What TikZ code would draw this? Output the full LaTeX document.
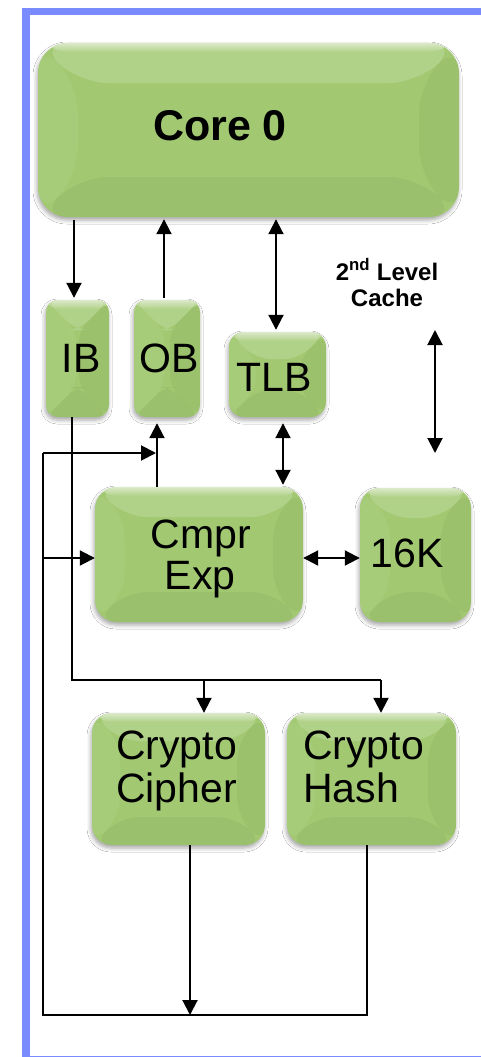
\documentclass[tikz,border=0pt]{standalone}
\usepackage{fontspec}
\setmainfont{Liberation Sans}
\usetikzlibrary{arrows.meta,calc,shadows.blur}

\definecolor{frameblue}{RGB}{122,139,255}
\definecolor{boxgreen}{RGB}{162,201,114}

\tikzset{
  % bevelled look: light top face, soft sides, slightly darker bottom face
  bevel/.style={path picture={
    \path (path picture bounding box.north west) coordinate (pNW)
          (path picture bounding box.north east) coordinate (pNE)
          (path picture bounding box.south east) coordinate (pSE)
          (path picture bounding box.south west) coordinate (pSW);
    \shade[top color=boxgreen!45!white, bottom color=boxgreen] (pNW) rectangle ($(pNE)+(0,9)$);
    \fill[white,opacity=.16] (pNW) -- (pNE) -- ($(pNE)+(-#1,#1)$) -- ($(pNW)+(#1,#1)$) -- cycle;
    \fill[white,opacity=.05] (pNW) -- ($(pNW)+(#1,#1)$) -- ($(pSW)+(#1,-#1)$) -- (pSW) -- cycle;
    \fill[black,opacity=.035] (pNE) -- ($(pNE)+(-#1,#1)$) -- ($(pSE)+(-#1,-#1)$) -- (pSE) -- cycle;
    \fill[black,opacity=.045] (pSW) -- ($(pSW)+(#1,-#1)$) -- ($(pSE)+(-#1,-#1)$) -- (pSE) -- cycle;
  }},
  blk/.style={rounded corners=#1, fill=boxgreen, draw=none, inner sep=0pt,
    blur shadow={shadow xshift=-1pt,shadow yshift=-3pt,shadow blur radius=4pt,shadow opacity=35}},
  lbl/.style={font=\fontsize{41}{42}\selectfont, anchor=base, inner sep=0pt},
  cachelbl/.style={font=\fontsize{24}{26}\selectfont\bfseries, anchor=base, inner sep=0pt},
  wire/.style={line width=2pt},
  arr/.style={line width=2pt, -{Triangle[width=15pt,length=15pt]}},
  darr/.style={line width=2pt, {Triangle[width=15pt,length=15pt]}-{Triangle[width=15pt,length=15pt]}},
}

\begin{document}
\begin{tikzpicture}[x=1pt,y=-1pt]
\useasboundingbox (0,0) rectangle (481,1057);
\fill[white] (0,0) rectangle (481,1057);

% outer frame
\draw[frameblue, line width=7.5pt] (26,11.5) -- (495,11.5) -- (495,1059.5) -- (26,1059.5) -- cycle;

% blocks
\node[blk=30pt, bevel=40, minimum width=421pt, minimum height=174pt] (core) at (248.5,130) {};
\node[blk=12pt, bevel=30, minimum width=63pt,  minimum height=117pt] (ib) at (77.5,358.5) {};
\node[blk=12pt, bevel=30, minimum width=66pt,  minimum height=117pt] (ob) at (167,358.5) {};
\node[blk=15pt, bevel=27, minimum width=97pt,  minimum height=85pt]  (tlb) at (277.5,374.5) {};
\node[blk=22pt, bevel=30, minimum width=208pt, minimum height=135pt] (cmpr) at (199,554.5) {};
\node[blk=20pt, bevel=30, minimum width=111pt, minimum height=134pt] (k16) at (415.5,555) {};
\node[blk=20pt, bevel=28, minimum width=173pt, minimum height=132pt] (cipher) at (178.5,779) {};
\node[blk=20pt, bevel=28, minimum width=169pt, minimum height=132pt] (hash) at (371.5,779) {};

% labels
\node[lbl, font=\fontsize{43}{44}\selectfont\bfseries] (coreT) at (220,140) {Core 0};
\node[lbl] (ibT) at (81,372) {IB};
\node[lbl] (obT) at (169,372) {OB};
\node[lbl] (tlbT) at (274,391) {TLB};
\node[lbl] (cmprT1) at (201,548) {Cmpr};
\node[lbl] (cmprT2) at (200,589) {Exp};
\node[lbl] (k16T) at (407,567) {16K};
\node[lbl, anchor=base west] (cipherT1) at (116,759) {Crypto};
\node[lbl, anchor=base west] (cipherT2) at (116,802) {Cipher};
\node[lbl, anchor=base west] (hashT1) at (303,759) {Crypto};
\node[lbl, anchor=base west] (hashT2) at (303,802) {Hash};
\node[cachelbl] (cacheT1) at (387,280) {2\textsuperscript{nd} Level};
\node[cachelbl] (cacheT2) at (387,306) {Cache};

% routing coordinates
\coordinate (xib)  at (74,0);
\coordinate (xob)  at (164,0);
\coordinate (xtlb) at (276,0);
\coordinate (xtc)  at (283,0);
\coordinate (xco)  at (157,0);
\coordinate (xcs)  at (190,0);
\coordinate (xcb)  at (204,0);
\coordinate (yce)  at (0,558);
\coordinate (cacheA) at (435,330);
\coordinate (cacheB) at (435,453);
\coordinate (busL) at (72,680);
\coordinate (busR) at (381,680);
\coordinate (retR) at (367,1015);
\coordinate (retL) at (43,1015);
\coordinate (retTop) at (43,453);

% core <-> buffers
\draw[arr, shorten <=3pt, shorten >=2pt] (core.south -| xib) -- (ib.north -| xib);
\draw[arr, shorten <=2pt, shorten >=2pt] (ob.north -| xob) -- (core.south -| xob);
\draw[darr, shorten <=2pt, shorten >=2pt] (core.south -| xtlb) -- (tlb.north -| xtlb);
\draw[darr] (cacheA) -- (cacheB);

% compress engine links
\draw[darr, shorten <=6pt, shorten >=2pt] (tlb.south -| xtc) -- (cmpr.north -| xtc);
\draw[arr, shorten >=6pt] (cmpr.north -| xco) -- (ob.south -| xco);
\draw[darr] (cmpr.east |- yce) -- (k16.west |- yce);

% input bus to crypto engines
\draw[wire] (ib.south -| busL) -- (busL) -- (busR);
\draw[arr] (busL -| xcb) -- (cipher.north -| xcb);
\draw[arr] (busR) -- (hash.north -| busR);

% return path
\draw[wire] (hash.south -| retR) -- (retR) -- (retL) -- (retTop);
\draw[arr, shorten >=1pt] (retTop) -- (xco |- retTop);
\draw[arr] (retL |- yce) -- (cmpr.west |- yce);
\draw[arr] (cipher.south -| xcs) -- (xcs |- retL);
\end{tikzpicture}
\end{document}
